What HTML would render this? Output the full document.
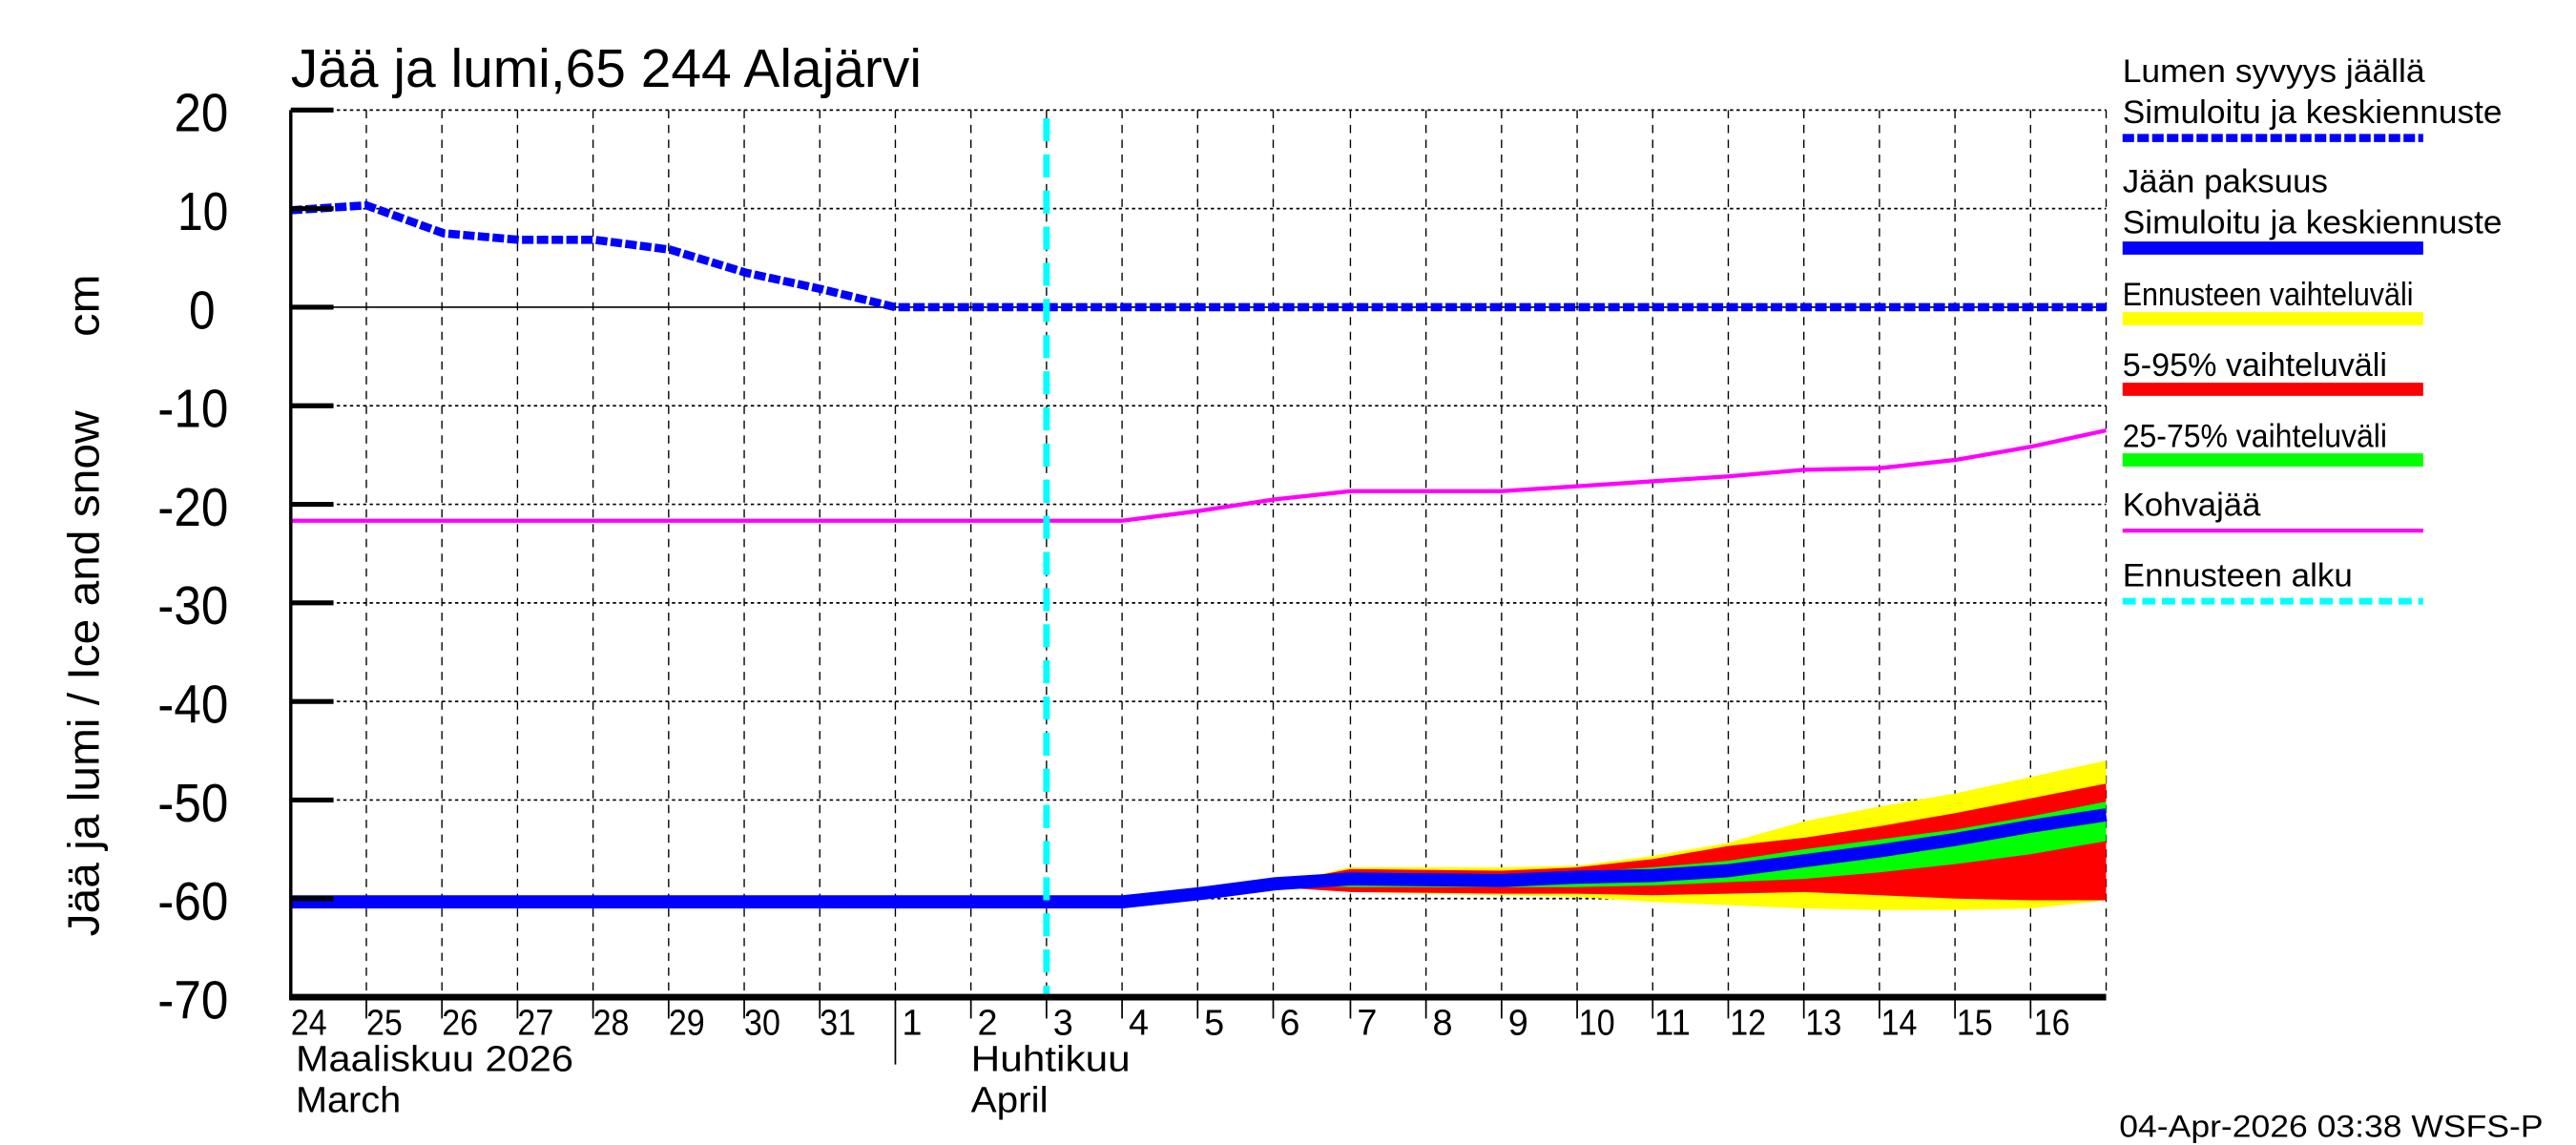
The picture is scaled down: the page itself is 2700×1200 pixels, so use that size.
<!DOCTYPE html>
<html><head><meta charset="utf-8"><style>html,body{margin:0;padding:0;background:#fff}svg{display:block}</style></head>
<body>
<svg width="2700" height="1200" viewBox="0 0 1568 697" preserveAspectRatio="none" xmlns="http://www.w3.org/2000/svg" font-family="Liberation Sans, Arial, sans-serif">
<rect width="1568" height="697" fill="#fff"/>
<g stroke="#000" stroke-width="1" stroke-dasharray="2,2">
<line x1="177" y1="67" x2="1282" y2="67"/><line x1="177" y1="127" x2="1282" y2="127"/>
<line x1="177" y1="247" x2="1282" y2="247"/><line x1="177" y1="307" x2="1282" y2="307"/>
<line x1="177" y1="367" x2="1282" y2="367"/><line x1="177" y1="427" x2="1282" y2="427"/>
<line x1="177" y1="487" x2="1282" y2="487"/><line x1="177" y1="547" x2="1282" y2="547"/>
</g>
<line x1="177" y1="187" x2="1282" y2="187" stroke="#000" stroke-width="1"/>
<g stroke="#000" stroke-width="0.8" stroke-dasharray="5,4">
<line x1="223" y1="67" x2="223" y2="607"/><line x1="269" y1="67" x2="269" y2="607"/><line x1="315" y1="67" x2="315" y2="607"/><line x1="361" y1="67" x2="361" y2="607"/><line x1="407" y1="67" x2="407" y2="607"/><line x1="453" y1="67" x2="453" y2="607"/><line x1="499" y1="67" x2="499" y2="607"/><line x1="545" y1="67" x2="545" y2="607"/><line x1="591" y1="67" x2="591" y2="607"/><line x1="637" y1="67" x2="637" y2="607"/><line x1="683" y1="67" x2="683" y2="607"/><line x1="729" y1="67" x2="729" y2="607"/><line x1="775" y1="67" x2="775" y2="607"/><line x1="822" y1="67" x2="822" y2="607"/><line x1="868" y1="67" x2="868" y2="607"/><line x1="914" y1="67" x2="914" y2="607"/><line x1="960" y1="67" x2="960" y2="607"/><line x1="1006" y1="67" x2="1006" y2="607"/><line x1="1052" y1="67" x2="1052" y2="607"/><line x1="1098" y1="67" x2="1098" y2="607"/><line x1="1144" y1="67" x2="1144" y2="607"/><line x1="1190" y1="67" x2="1190" y2="607"/><line x1="1236" y1="67" x2="1236" y2="607"/><line x1="1282" y1="67" x2="1282" y2="607"/>
</g>
<polygon fill="#ffff00" points="730,544 776,538 822,528 914,528 960,527 1006,521 1052,513 1098,500 1144,491 1190,483 1236,473 1282,463 1282,548 1236,553 1190,554 1144,554 1098,553 1052,551 1006,549 960,546 914,545 822,543 776,540"/>
<polygon fill="#ff0000" points="730,544 776,538 822,529 914,530 960,528 1006,523 1052,515 1098,510 1144,503 1190,495 1236,486 1282,477 1282,548 1236,548 1190,547 1144,545 1098,543 1052,544 1006,545 960,544 914,544 822,543 776,540"/>
<polygon fill="#00ff00" points="776,538 822,531 914,532 960,531 1006,528 1052,524 1098,517 1144,511 1190,505 1236,497 1282,488 1282,512 1236,520 1190,526 1144,531 1098,535 1052,537 1006,539 960,540 914,540 822,540 776,539"/>
<polyline fill="none" stroke="#0000ff" stroke-width="8" points="177,549 683,549 730,544 776,538 822,535 914,536 960,534 1006,533 1052,530 1098,524 1144,518 1190,511 1236,503 1282,496"/>
<polyline fill="none" stroke="#ff00ff" stroke-width="2.5" points="177,317 683,317 730,311 776,304 822,299 914,299 960,296 1006,293 1052,290 1098,286 1144,285 1190,280 1236,272 1282,262"/>
<polyline fill="none" stroke="#0000ff" stroke-width="5" stroke-dasharray="7,2" points="177,128 223,125 270,142 316,146 362,146 408,152 454,166 500,176 545,187 1282,187"/>
<line x1="637" y1="72" x2="637" y2="607" stroke="#00ffff" stroke-width="4" stroke-dasharray="14,8"/>
<line x1="177" y1="67" x2="177" y2="608" stroke="#000" stroke-width="2"/>
<line x1="176" y1="607" x2="1282" y2="607" stroke="#000" stroke-width="4"/>
<g stroke="#000" stroke-width="3">
<line x1="177" y1="67" x2="203" y2="67"/><line x1="177" y1="127" x2="203" y2="127"/><line x1="177" y1="187" x2="203" y2="187"/><line x1="177" y1="247" x2="203" y2="247"/><line x1="177" y1="307" x2="203" y2="307"/><line x1="177" y1="367" x2="203" y2="367"/><line x1="177" y1="427" x2="203" y2="427"/><line x1="177" y1="487" x2="203" y2="487"/><line x1="177" y1="547" x2="203" y2="547"/>
</g>
<g stroke="#000" stroke-width="1">
<line x1="223" y1="607" x2="223" y2="620"/><line x1="269" y1="607" x2="269" y2="620"/><line x1="315" y1="607" x2="315" y2="620"/><line x1="361" y1="607" x2="361" y2="620"/><line x1="407" y1="607" x2="407" y2="620"/><line x1="453" y1="607" x2="453" y2="620"/><line x1="499" y1="607" x2="499" y2="620"/><line x1="545" y1="607" x2="545" y2="648"/><line x1="591" y1="607" x2="591" y2="620"/><line x1="637" y1="607" x2="637" y2="620"/><line x1="683" y1="607" x2="683" y2="620"/><line x1="729" y1="607" x2="729" y2="620"/><line x1="775" y1="607" x2="775" y2="620"/><line x1="822" y1="607" x2="822" y2="620"/><line x1="868" y1="607" x2="868" y2="620"/><line x1="914" y1="607" x2="914" y2="620"/><line x1="960" y1="607" x2="960" y2="620"/><line x1="1006" y1="607" x2="1006" y2="620"/><line x1="1052" y1="607" x2="1052" y2="620"/><line x1="1098" y1="607" x2="1098" y2="620"/><line x1="1144" y1="607" x2="1144" y2="620"/><line x1="1190" y1="607" x2="1190" y2="620"/><line x1="1236" y1="607" x2="1236" y2="620"/>
</g>
<g font-size="33" text-anchor="end" fill="#000" lengthAdjust="spacingAndGlyphs">
<text x="139" y="80" textLength="33" lengthAdjust="spacingAndGlyphs">20</text><text x="139" y="140" textLength="31" lengthAdjust="spacingAndGlyphs">10</text><text x="131" y="200" textLength="16" lengthAdjust="spacingAndGlyphs">0</text><text x="139" y="260" textLength="43" lengthAdjust="spacingAndGlyphs">-10</text><text x="139" y="320" textLength="43" lengthAdjust="spacingAndGlyphs">-20</text><text x="139" y="380" textLength="43" lengthAdjust="spacingAndGlyphs">-30</text><text x="139" y="440" textLength="43" lengthAdjust="spacingAndGlyphs">-40</text><text x="139" y="500" textLength="43" lengthAdjust="spacingAndGlyphs">-50</text><text x="139" y="560" textLength="43" lengthAdjust="spacingAndGlyphs">-60</text><text x="139" y="620" textLength="43" lengthAdjust="spacingAndGlyphs">-70</text>
</g>
<text x="177" y="53" font-size="33" textLength="384" lengthAdjust="spacingAndGlyphs">Jää ja lumi,65 244 Alajärvi</text>
<text transform="translate(60,570) rotate(-90)" font-size="27" textLength="320" lengthAdjust="spacingAndGlyphs">Jää ja lumi / Ice and snow</text>
<text transform="translate(60,205) rotate(-90)" font-size="27" textLength="38" lengthAdjust="spacingAndGlyphs">cm</text>
<g font-size="22">
<text x="177" y="630" textLength="22" lengthAdjust="spacingAndGlyphs">24</text><text x="223" y="630" textLength="22" lengthAdjust="spacingAndGlyphs">25</text><text x="269" y="630" textLength="22" lengthAdjust="spacingAndGlyphs">26</text><text x="315" y="630" textLength="22" lengthAdjust="spacingAndGlyphs">27</text><text x="361" y="630" textLength="22" lengthAdjust="spacingAndGlyphs">28</text><text x="407" y="630" textLength="22" lengthAdjust="spacingAndGlyphs">29</text><text x="453" y="630" textLength="22" lengthAdjust="spacingAndGlyphs">30</text><text x="499" y="630" textLength="22" lengthAdjust="spacingAndGlyphs">31</text><text x="549" y="630">1</text><text x="595" y="630">2</text><text x="641" y="630">3</text><text x="687" y="630">4</text><text x="733" y="630">5</text><text x="779" y="630">6</text><text x="826" y="630">7</text><text x="872" y="630">8</text><text x="918" y="630">9</text><text x="961" y="630" textLength="22" lengthAdjust="spacingAndGlyphs">10</text><text x="1007" y="630" textLength="22" lengthAdjust="spacingAndGlyphs">11</text><text x="1053" y="630" textLength="22" lengthAdjust="spacingAndGlyphs">12</text><text x="1099" y="630" textLength="22" lengthAdjust="spacingAndGlyphs">13</text><text x="1145" y="630" textLength="22" lengthAdjust="spacingAndGlyphs">14</text><text x="1191" y="630" textLength="22" lengthAdjust="spacingAndGlyphs">15</text><text x="1238" y="630" textLength="22" lengthAdjust="spacingAndGlyphs">16</text>
<text x="180" y="652" textLength="169" lengthAdjust="spacingAndGlyphs">Maaliskuu 2026</text><text x="180" y="677" textLength="64" lengthAdjust="spacingAndGlyphs">March</text>
<text x="591" y="652" textLength="97" lengthAdjust="spacingAndGlyphs">Huhtikuu</text><text x="591" y="677" textLength="47" lengthAdjust="spacingAndGlyphs">April</text>
</g>
<text x="1290" y="692" font-size="19" textLength="258" lengthAdjust="spacingAndGlyphs">04-Apr-2026 03:38 WSFS-P</text>
<g font-size="20">
<text x="1292" y="50" textLength="184" lengthAdjust="spacingAndGlyphs">Lumen syvyys jäällä</text><text x="1292" y="75" textLength="231" lengthAdjust="spacingAndGlyphs">Simuloitu ja keskiennuste</text>
<text x="1292" y="117" textLength="125" lengthAdjust="spacingAndGlyphs">Jään paksuus</text><text x="1292" y="142" textLength="231" lengthAdjust="spacingAndGlyphs">Simuloitu ja keskiennuste</text>
<text x="1292" y="186" textLength="177" lengthAdjust="spacingAndGlyphs">Ennusteen vaihteluväli</text>
<text x="1292" y="229" textLength="161" lengthAdjust="spacingAndGlyphs">5-95% vaihteluväli</text>
<text x="1292" y="272" textLength="161" lengthAdjust="spacingAndGlyphs">25-75% vaihteluväli</text>
<text x="1292" y="314" textLength="84" lengthAdjust="spacingAndGlyphs">Kohvajää</text>
<text x="1292" y="357" textLength="140" lengthAdjust="spacingAndGlyphs">Ennusteen alku</text>
</g>
<line x1="1292" y1="84" x2="1475" y2="84" stroke="#0000ff" stroke-width="5" stroke-dasharray="7,2"/>
<line x1="1292" y1="151" x2="1475" y2="151" stroke="#0000ff" stroke-width="8"/>
<line x1="1292" y1="194" x2="1475" y2="194" stroke="#ffff00" stroke-width="8"/>
<line x1="1292" y1="237" x2="1475" y2="237" stroke="#ff0000" stroke-width="8"/>
<line x1="1292" y1="280" x2="1475" y2="280" stroke="#00ff00" stroke-width="8"/>
<line x1="1292" y1="323" x2="1475" y2="323" stroke="#ff00ff" stroke-width="2.5"/>
<line x1="1292" y1="366" x2="1475" y2="366" stroke="#00ffff" stroke-width="4" stroke-dasharray="8,4"/>
</svg>
</body></html>
